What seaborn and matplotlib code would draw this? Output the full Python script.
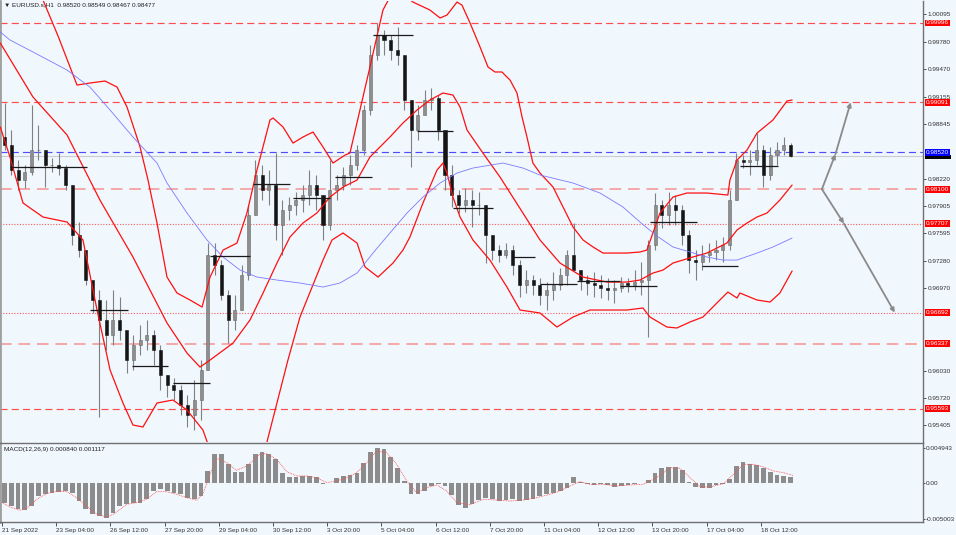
import numpy as np
import pandas as pd
import matplotlib
matplotlib.use("Agg")
import matplotlib.pyplot as plt
import matplotlib.transforms as mtransforms
from matplotlib.patches import Rectangle
import seaborn as sns

# ---- price data: 4-hour groups of the H1 chart (bar index = hour) ----
group_size = 4
first_open = 0.98700
highs = [0.99083, 0.98775, 0.98432, 0.98375, 0.99060, 0.98832, 0.98546, 0.98455, 0.98512, 0.98375,
         0.98147, 0.97725, 0.97405, 0.97029, 0.96949, 0.96835, 0.96949, 0.96869, 0.96379, 0.96436,
         0.96550, 0.96607, 0.96493, 0.96322, 0.95979, 0.95945, 0.95865, 0.95751, 0.95922, 0.96150,
         0.97485, 0.97485, 0.97291, 0.96949, 0.96892, 0.97234, 0.97919, 0.98432, 0.98375, 0.98318,
         0.98512, 0.97976, 0.98010, 0.98067, 0.98147, 0.98318, 0.98261, 0.98033, 0.98432, 0.98261,
         0.98353, 0.98489, 0.98604, 0.99060, 0.99745, 0.99996, 0.99916, 0.99859, 0.99950, 0.99573,
         0.99117, 0.99060, 0.99231, 0.99254, 0.99174, 0.98775, 0.98375, 0.98090, 0.98113, 0.98090,
         0.98067, 0.97919, 0.97577, 0.97463, 0.97485, 0.97463, 0.97291, 0.97177, 0.97120, 0.97086,
         0.97040, 0.97154, 0.97200, 0.97405, 0.97714, 0.97177, 0.97120, 0.97154, 0.97120, 0.97086,
         0.97063, 0.97097, 0.97086, 0.97177, 0.97269, 0.97520, 0.98056, 0.97976, 0.98067, 0.98033,
         0.97919, 0.97634, 0.97405, 0.97463, 0.97485, 0.97520, 0.97554, 0.98090, 0.98512, 0.98489,
         0.98546, 0.98740, 0.98604, 0.98581, 0.98638, 0.98695, 0.98626]
lows = [0.98546, 0.98261, 0.98090, 0.98113, 0.98261, 0.98432, 0.98124, 0.98295, 0.98261, 0.98090,
        0.97463, 0.97326, 0.97006, 0.96687, 0.95500, 0.96264, 0.96322, 0.96379, 0.96002, 0.96036,
        0.96207, 0.96264, 0.96093, 0.95808, 0.95728, 0.95694, 0.95523, 0.95386, 0.95352, 0.95466,
        0.96036, 0.97120, 0.96835, 0.96344, 0.96493, 0.96721, 0.97063, 0.97805, 0.97976, 0.97919,
        0.97520, 0.97348, 0.97748, 0.97805, 0.97839, 0.97919, 0.97862, 0.97520, 0.97634, 0.97976,
        0.98090, 0.98147, 0.98318, 0.98489, 0.98946, 0.99573, 0.99630, 0.99573, 0.99516, 0.99003,
        0.98353, 0.98661, 0.98946, 0.99003, 0.98661, 0.98090, 0.97896, 0.97828, 0.97839, 0.97668,
        0.97805, 0.97257, 0.97291, 0.97269, 0.97314, 0.97120, 0.96869, 0.96915, 0.96892, 0.96778,
        0.96721, 0.96835, 0.96949, 0.97006, 0.97177, 0.96949, 0.96892, 0.96869, 0.96858, 0.96835,
        0.96801, 0.96926, 0.96926, 0.96949, 0.96892, 0.96413, 0.97405, 0.97657, 0.97691, 0.97691,
        0.97463, 0.97143, 0.97063, 0.97177, 0.97269, 0.97291, 0.97269, 0.97405, 0.97976, 0.98341,
        0.98261, 0.98375, 0.98124, 0.98204, 0.98375, 0.98489, 0.98467]
closes = [0.98604, 0.98318, 0.98204, 0.98295, 0.98546, 0.98546, 0.98375, 0.98375, 0.98341, 0.98147,
          0.97577, 0.97405, 0.97063, 0.96835, 0.96607, 0.96436, 0.96607, 0.96493, 0.96150, 0.96322,
          0.96379, 0.96436, 0.96264, 0.95979, 0.95865, 0.95808, 0.95637, 0.95523, 0.95694, 0.96036,
          0.97348, 0.97234, 0.96892, 0.96607, 0.96721, 0.97120, 0.97805, 0.98261, 0.98090, 0.98147,
          0.97691, 0.97862, 0.97919, 0.97976, 0.98033, 0.98147, 0.98033, 0.97691, 0.98090, 0.98147,
          0.98261, 0.98375, 0.98546, 0.99003, 0.99630, 0.99859, 0.99802, 0.99687, 0.99630, 0.99117,
          0.98775, 0.98946, 0.99117, 0.99140, 0.98775, 0.98261, 0.98033, 0.97919, 0.97976, 0.97919,
          0.97919, 0.97577, 0.97405, 0.97348, 0.97405, 0.97234, 0.97006, 0.97063, 0.97006, 0.96892,
          0.96949, 0.97006, 0.97120, 0.97348, 0.97177, 0.97063, 0.97029, 0.97006, 0.96972, 0.96949,
          0.96972, 0.97029, 0.97006, 0.97040, 0.97063, 0.97463, 0.97919, 0.97805, 0.97919, 0.97862,
          0.97577, 0.97291, 0.97269, 0.97348, 0.97383, 0.97405, 0.97463, 0.97976, 0.98432, 0.98410,
          0.98432, 0.98546, 0.98261, 0.98489, 0.98546, 0.98604, 0.98477]

# MACD main (histogram) per 4-hour group, and signal line anchor points
macd_hist = [-0.00271, -0.00318, -0.00364, -0.00378, -0.00318, -0.00177, -0.00145, -0.00131, -0.00121, -0.00107,
             -0.00140, -0.00248, -0.00364, -0.00425, -0.00462, -0.00490, -0.00411, -0.00318, -0.00285, -0.00271,
             -0.00271, -0.00224, -0.00107, -0.00084, -0.00107, -0.00131, -0.00154, -0.00201, -0.00224, -0.00177,
             0.00173, 0.00406, 0.00416, 0.00266, 0.00163, 0.00163, 0.00266, 0.00406, 0.00444, 0.00406,
             0.00336, 0.00149, 0.00093, 0.00093, 0.00103, 0.00103, 0.00089, -0.00014, 0.00009, 0.00079,
             0.00103, 0.00117, 0.00149, 0.00290, 0.00444, 0.00500, 0.00476, 0.00369, 0.00219, 0.00033,
             -0.00154, -0.00154, -0.00107, -0.00037, -0.00014, -0.00037, -0.00163, -0.00304, -0.00341, -0.00294,
             -0.00238, -0.00201, -0.00224, -0.00248, -0.00234, -0.00224, -0.00248, -0.00238, -0.00215, -0.00177,
             -0.00145, -0.00131, -0.00107, -0.00061, 0.00089, 0.00023, -0.00014, -0.00023, -0.00014, -0.00028,
             -0.00051, -0.00037, -0.00023, -0.00014, 0.00002, 0.00042, 0.00149, 0.00219, 0.00229, 0.00229,
             0.00182, 0.00023, -0.00051, -0.00070, -0.00061, -0.00023, -0.00014, 0.00056, 0.00243, 0.00294,
             0.00276, 0.00252, 0.00210, 0.00159, 0.00120, 0.00105, 0.00084]
signal_bar = [0, 4.7, 10.6, 14.6, 20.5, 26.4, 32.3, 38.2, 44.1, 50, 55.9, 61.8, 65.7, 69.7, 73.6, 79.5,
              85.4, 91.3, 97.2, 103.1, 109, 115, 118.9, 122.8, 126.7, 132.6, 138.5, 144.5, 152.3, 156.3,
              162.2, 168.1, 174, 179.9, 185.8, 191.7, 197.6, 203.5, 209.4, 215.3, 221.2, 227.1, 233, 238.9,
              244.8, 250.7, 256.6, 262.5, 268.4, 276.3, 284.2, 292, 299.9, 307.8, 315.7, 323.5, 329.4,
              335.3, 341.2, 347.1, 355, 362.9, 370.8, 378.6, 386.5, 394.4, 400.3, 406.2, 412.1, 418,
              425.9, 431.8, 437.7, 443.6, 449.5, 455.4, 461.3, 467]
signal_val = [-0.00271, -0.00332, -0.00378, -0.00350, -0.00224, -0.00145, -0.00107, -0.00117, -0.00201,
              -0.00318, -0.00434, -0.00472, -0.00434, -0.00364, -0.00294, -0.00271, -0.00224, -0.00117,
              -0.00117, -0.00154, -0.00201, -0.00238, -0.00131, 0.00126, 0.00350, 0.00290, 0.00182,
              0.00243, 0.00406, 0.00416, 0.00336, 0.00163, 0.00103, 0.00103, 0.00079, 0.00009, 0.00033,
              0.00079, 0.00149, 0.00290, 0.00453, 0.00430, 0.00266, 0.00033, -0.00131, -0.00061, -0.00023,
              -0.00107, -0.00271, -0.00300, -0.00224, -0.00234, -0.00248, -0.00234, -0.00201, -0.00154,
              -0.00107, -0.00037, 0.00023, -0.00014, -0.00014, -0.00037, -0.00023, -0.00014, 0.00079,
              0.00219, 0.00210, 0.00079, -0.00051, -0.00051, -0.00005, 0.00126, 0.00266, 0.00266,
              0.00229, 0.00173, 0.00149, 0.001117]

# Bollinger bands and moving average (bar index, price)
upper_bar = [19.5, 24.2, 33.1, 41.3, 44.3, 51.9, 60.8, 67.9, 73.8, 81.5, 86.2, 91.5, 97.4, 103.3, 111,
             118.1, 122.8, 130.5, 138.7, 144.6, 150.5, 158.2, 160, 165.9, 171.8, 177.7, 183.6, 189.5,
             195.4, 202.5, 205.4, 211.3, 217.2, 224.9, 229, 234.9, 242.6, 252.6, 258.6, 262.7, 268.6,
             271.5, 276.3, 282.2, 286.9, 291, 295.1, 299.9, 304, 307, 309.9, 313.4, 317.6, 325.3, 331.2,
             337.1, 343, 348.9, 354.8, 368.9, 376.6, 380.7, 388.4, 396.1, 404.3, 416.1, 428.5, 429.7,
             433.9, 439.8, 445.7, 455.1, 463.4, 466.4]
upper_val = [1.00486, 1.00258, 0.99847, 0.99437, 0.99288, 0.99311, 0.99334, 0.99265, 0.99037, 0.98581,
             0.98204, 0.97714, 0.97097, 0.96915, 0.96835, 0.96755, 0.97097, 0.97405, 0.97485, 0.97828,
             0.98318, 0.98889, 0.98912, 0.98809, 0.98626, 0.98695, 0.98752, 0.98581, 0.98398, 0.98489,
             0.98512, 0.99003, 0.99494, 1.00144, 1.00292, 1.00349, 1.00235, 1.00144, 1.00053, 1.00087,
             1.00235, 1.00201, 0.99996, 0.99722, 0.99494, 0.99437, 0.99437, 0.99345, 0.99197, 0.98923,
             0.98695, 0.98398, 0.98284, 0.98124, 0.97896, 0.97668, 0.97520, 0.97440, 0.97371, 0.97371,
             0.97383, 0.97405, 0.97828, 0.98010, 0.98056, 0.98056, 0.98033, 0.98204, 0.98432, 0.98546,
             0.98740, 0.98889, 0.99106, 0.99117]
middle_bar = [-1, 18.3, 38.4, 57.8, 77.3, 97.4, 109.2, 116.9, 122.8, 136.4, 146.4, 154.1, 162.3, 170,
              177.7, 185.9, 193.6, 201.3, 209.6, 217.2, 229, 236.7, 245, 252.6, 260.3, 266.2, 270.4,
              274.5, 283.9, 294, 307.5, 317.6, 329.4, 343, 357.1, 368.9, 376.6, 384.3, 390.2, 396.1,
              401.9, 407.9, 416.1, 422, 427.9, 433.9, 439.8, 445.7, 451.6, 459.2, 466.4]
middle_val = [0.99767, 0.99151, 0.98718, 0.97976, 0.97326, 0.96573, 0.96230, 0.96070, 0.96150, 0.96344,
              0.96607, 0.96915, 0.97257, 0.97554, 0.97714, 0.97828, 0.98010, 0.98124, 0.98204, 0.98467,
              0.98695, 0.98855, 0.99003, 0.99117, 0.99197, 0.99174, 0.99037, 0.98775, 0.98512, 0.98238,
              0.97828, 0.97520, 0.97257, 0.97097, 0.97040, 0.97040, 0.97063, 0.97143, 0.97177, 0.97257,
              0.97291, 0.97326, 0.97371, 0.97428, 0.97485, 0.97634, 0.97714, 0.97782, 0.97828, 0.97976,
              0.98147]
lower_bar = [-1, 4.7, 12.4, 24.2, 38.4, 47.8, 56.1, 63.8, 71.4, 77.3, 83.2, 91.5, 100.9, 109.2, 118.6,
             122.8, 131.6, 146.4, 155.2, 168.8, 175.9, 189.5, 194.8, 201.3, 209.6, 214.3, 222, 230.8,
             236.7, 240.8, 248.5, 256.8, 260.3, 262.7, 266.2, 270.4, 278, 288, 298.1, 305.8, 317.6,
             327.6, 337.1, 347.1, 357.1, 368.9, 378.4, 382.5, 392.5, 398.4, 406.1, 413.8, 422, 428.5,
             433.9, 435.6, 445.7, 453.4, 459.2, 466.4]
lower_val = [0.98809, 0.98467, 0.97942, 0.97782, 0.97725, 0.97520, 0.96721, 0.96036, 0.95660, 0.95409,
             0.95386, 0.95660, 0.95694, 0.95580, 0.95352, 0.95124, 0.94781, 0.94781, 0.95124, 0.96150,
             0.96641, 0.97291, 0.97520, 0.97600, 0.97485, 0.97212, 0.97097, 0.97257, 0.97405, 0.97554,
             0.97942, 0.98318, 0.98398, 0.98284, 0.98010, 0.97782, 0.97520, 0.97291, 0.96983, 0.96721,
             0.96687, 0.96527, 0.96641, 0.96721, 0.96721, 0.96721, 0.96744, 0.96641, 0.96527, 0.96516,
             0.96584, 0.96641, 0.96801, 0.96926, 0.96858, 0.96915, 0.96835, 0.96812, 0.96915, 0.97166]
ma_bar = [-1, 4.7, 18.3, 38.4, 51.9, 63.8, 77.3, 91.5, 97.4, 109.2, 121, 130.5, 140.5, 150.5, 162.3,
          175.9, 189.5, 199.5, 209.6, 219, 229, 239.1, 248.5, 258.6, 268.6, 278, 295.7, 307.5, 317.6,
          337.1, 353, 366.6, 376.6, 386.6, 396.1, 406.1, 416.1, 425.6, 433.9, 445.7, 455.1, 466.4]
ma_val = [0.99893, 0.99802, 0.99665, 0.99459, 0.99265, 0.99003, 0.98695, 0.98398, 0.98170, 0.97828,
          0.97520, 0.97326, 0.97177, 0.97097, 0.97063, 0.97029, 0.96983, 0.97029, 0.97143, 0.97371,
          0.97600, 0.97828, 0.98010, 0.98170, 0.98284, 0.98341, 0.98398, 0.98341, 0.98261, 0.98170,
          0.98056, 0.97896, 0.97725, 0.97565, 0.97440, 0.97383, 0.97326, 0.97291, 0.97291, 0.97371,
          0.97440, 0.97542]

# daily level segments (start bar, end bar, price)
seg_start = [4.7, 52, 76.7, 101, 122.8, 148.2, 171.8, 196.6, 219, 245, 266.2, 301, 317.6, 339.4, 364.8, 382.5, 413.2, 435.7]
seg_end = [50.2, 74.4, 98, 122.8, 146.4, 170, 193.6, 218.4, 242.6, 266.2, 289.9, 314.6, 339.4, 364.8, 386.7, 410.3, 434.5, 458.1]
seg_price = [0.98353, 0.96721, 0.96082, 0.95888, 0.97337, 0.98159, 0.97999, 0.98238, 0.99859, 0.98763,
             0.97885, 0.97326, 0.97018, 0.97052, 0.96995, 0.97725, 0.97223, 0.98364]

# horizontal levels
red_levels = [0.99996, 0.99091, 0.98100, 0.97707, 0.96692, 0.96337, 0.95593]
red_styles = ["dash", "dash", "pink", "dot", "dot", "pink", "dash"]
bid_price = 0.98520
ask_price = 0.98479

# forecast arrows (bar, price)
arrow_start = (484, 0.98100)
arrow_up = [(492, 0.98500), (501, 0.99091)]
arrow_down = [(497, 0.97707), (527, 0.96692)]

price_ticks = [1.00095, 0.99780, 0.99470, 0.99155, 0.98845, 0.98220, 0.97905, 0.97595,
               0.97280, 0.96970, 0.96030, 0.95720, 0.95405]
date_labels = ["21 Sep 2022", "23 Sep 04:00", "26 Sep 12:00", "27 Sep 20:00", "29 Sep 04:00",
               "30 Sep 12:00", "3 Oct 20:00", "5 Oct 04:00", "6 Oct 12:00", "7 Oct 20:00",
               "11 Oct 04:00", "12 Oct 12:00", "13 Oct 20:00", "17 Oct 04:00", "18 Oct 12:00"]
date_bars = [32 * i for i in range(len(date_labels))]

# ---- styling ----
sns.set_theme(style="white")
plt.rcParams["font.family"] = ["Liberation Sans", "DejaVu Sans"]
BG = "#f0f7fd"
FS = 4.6

fig = plt.figure(figsize=(9.56, 5.35), dpi=100, facecolor=BG)
W, H = 956, 535
ax = fig.add_axes([0, 1 - 442 / H, 923 / W, 441 / H], facecolor=BG)
ax2 = fig.add_axes([0, 1 - 522 / H, 923 / W, 79 / H], facecolor=BG)
xlim = (-2 / 1.694, 921 / 1.694)

# candles
df = pd.DataFrame({"high": highs, "low": lows, "close": closes})
df["open"] = [first_open] + closes[:-1]
df["x"] = np.arange(len(df)) * group_size + (group_size - 1) / 2
up = df["close"] >= df["open"]
ax.vlines(df["x"], df["low"], df["high"], color="#808080", lw=0.8, zorder=3)
ax.bar(df["x"], df["close"] - df["open"], bottom=df["open"], width=1.8,
       color=np.where(up, "#8e8e8e", "#151515"), edgecolor=np.where(up, "#6a6a6a", "#151515"),
       linewidth=0.4, zorder=4)

# bands and MA
for bx, by in [(upper_bar, upper_val), (middle_bar, middle_val), (lower_bar, lower_val)]:
    sns.lineplot(x=bx, y=by, ax=ax, color="#ff1010", lw=0.9, sort=False, estimator=None, zorder=5)
sns.lineplot(x=ma_bar, y=ma_val, ax=ax, color="#7b7bff", lw=0.6, sort=False, estimator=None, zorder=5)

ax.hlines(seg_price, seg_start, seg_end, color="#1a1a1a", lw=0.9, zorder=6)

# levels
style_map = {"dash": dict(color="#ff4d4d", ls=(0, (6, 3.5)), lw=0.85),
             "pink": dict(color="#f5a8a8", ls=(0, (6, 3.5)), lw=1.4),
             "dot": dict(color="#ff5c5c", ls=(0, (1, 1.5)), lw=0.8)}
for lv, st in zip(red_levels, red_styles):
    ax.axhline(lv, zorder=2, **style_map[st])
ax.axhline(ask_price, color="#c8ccd4", lw=0.8, zorder=2)
ax.axhline(bid_price, color="#4d4dff", ls=(0, (6, 3.5)), lw=0.85, zorder=2)

# arrows
def arrow(ax, p0, p1):
    ax.annotate("", xy=p1, xytext=p0,
                arrowprops=dict(arrowstyle="-|>", color="#8a8a8a", lw=1.3,
                                mutation_scale=6, shrinkA=0, shrinkB=0), zorder=7)

arrow(ax, arrow_start, arrow_up[0])
arrow(ax, arrow_up[0], arrow_up[1])
arrow(ax, arrow_start, arrow_down[0])
arrow(ax, arrow_down[0], arrow_down[1])

ax.set_xlim(*xlim)
ax.set_ylim(0.95215, 1.00247)
ax.yaxis.tick_right()
ax.set_yticks(price_ticks)
ax.set_yticklabels([f"{t:.5f}" for t in price_ticks])
ax.tick_params(axis="y", length=2, width=0.6, pad=1.2, labelsize=FS, colors="#333333")
ax.set_xticks([])
ax.set_xlabel("")
ax.set_ylabel("")

# price labels on the right scale
def price_label(ax, price, face, text_color="white"):
    ax.annotate(f"{price:.5f}", xy=(1.0, price), xycoords=("axes fraction", "data"),
                xytext=(2.2, 0), textcoords="offset points", ha="left", va="center",
                fontsize=FS, color=text_color, annotation_clip=False, zorder=10,
                bbox=dict(boxstyle="square,pad=0.15", fc=face, ec="none"))

# ask marker: black box mostly hidden behind the bid label
blend = mtransforms.blended_transform_factory(ax.transAxes, ax.transData)
ax.add_patch(Rectangle((1.0018, ask_price - 0.00035), 0.0285, 0.00050, transform=blend,
                       facecolor="#000000", edgecolor="none", clip_on=False, zorder=9))
price_label(ax, bid_price, "#0000ff")
for lv in red_levels:
    price_label(ax, lv, "#ff0000")

ax.text(0.004, 0.996, "▼ EURUSD.s,H1  0.98520 0.98549 0.98467 0.98477", transform=ax.transAxes,
        ha="left", va="top", fontsize=FS, color="#202020")

for side in ["top", "bottom"]:
    ax.spines[side].set_visible(False)
ax.spines["left"].set_color("#a0a0a0")
ax.spines["left"].set_linewidth(2)
ax.spines["right"].set_color("#707070")
ax.spines["right"].set_linewidth(1)

# MACD panel
ax2.bar(df["x"], macd_hist, width=2.8, color="#8c8c8c", linewidth=0, zorder=3)
sns.lineplot(x=signal_bar, y=signal_val, ax=ax2, color="#ff5050", lw=0.6, ls=(0, (1, 1)),
             sort=False, estimator=None, zorder=4)
ax2.set_xlim(*xlim)
ax2.set_ylim(-0.005422, 0.005646)
ax2.yaxis.tick_right()
macd_ticks = [0.004943, 0.0, -0.005003]
ax2.set_yticks(macd_ticks)
ax2.set_yticklabels(["0.004943", "0.00", "-0.005003"])
ax2.tick_params(axis="y", length=1.5, width=0.6, pad=0.8, labelsize=FS, colors="#333333")
ax2.set_xticks(date_bars)
ax2.set_xticklabels(date_labels)
for lab in ax2.get_xticklabels():
    lab.set_ha("left")
ax2.tick_params(axis="x", length=3, width=0.6, pad=1.5, labelsize=FS, colors="#333333", bottom=True)
ax2.set_xlabel("")
ax2.set_ylabel("")
ax2.text(0.004, 0.95, "MACD(12,26,9) 0.000840 0.001117", transform=ax2.transAxes,
         ha="left", va="top", fontsize=FS, color="#202020")
for side, spine in ax2.spines.items():
    spine.set_color("#707070")
    spine.set_linewidth(1)
ax2.spines["left"].set_color("#a0a0a0")
ax2.spines["left"].set_linewidth(2)

fig.savefig("out.png", dpi=100, facecolor=BG)
